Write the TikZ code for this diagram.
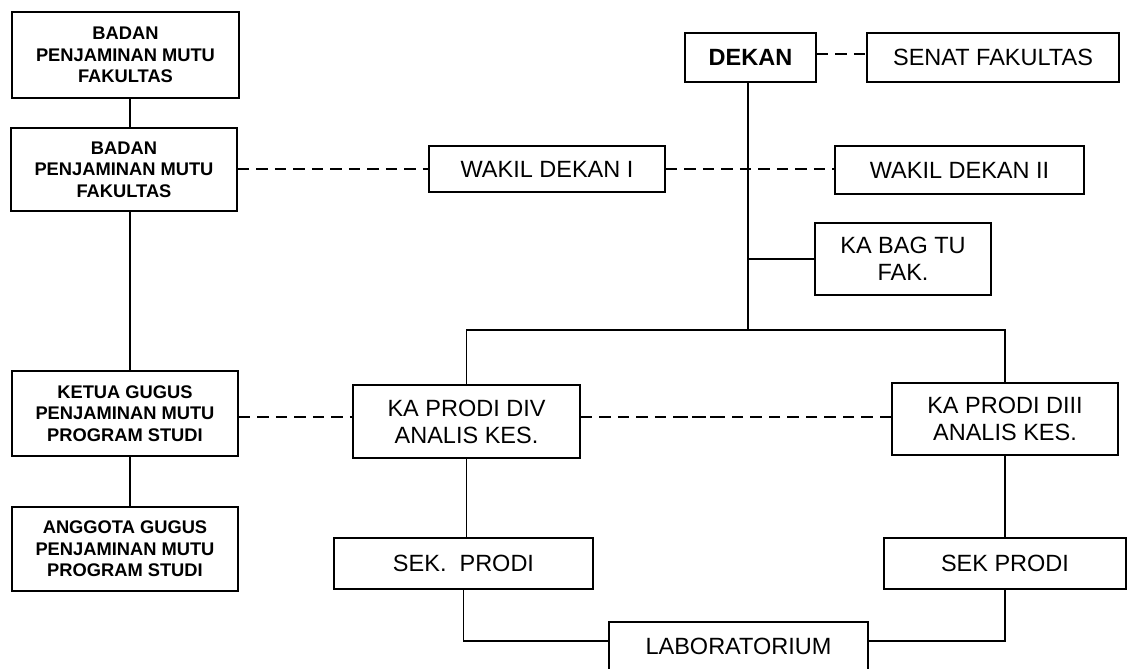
\documentclass[tikz,border=0pt]{standalone}
\usepackage{fontspec}
\setmainfont{Liberation Sans}
\begin{document}
\begin{tikzpicture}[x=1pt,y=-1pt,
  box/.style={draw, line width=1.8pt, inner sep=0pt, align=center, fill=white},
  small/.style={font=\fontsize{18.3}{21.5}\selectfont\bfseries},
  big/.style={font=\fontsize{23.5}{27}\selectfont},
  conn/.style={line width=1.9pt},
  thinconn/.style={line width=1.3pt},
  dsh/.style={line width=1.9pt, dash pattern=on 11.5pt off 7pt}]
\useasboundingbox (0,0) rectangle (1128,669);

% left column
\node[box,small,minimum width=227pt,minimum height=86pt] (bpm1) at (125.5,55) {BADAN\\PENJAMINAN MUTU\\FAKULTAS};
\node[box,small,minimum width=226pt,minimum height=83pt] (bpm2) at (124,169.5) {BADAN\\PENJAMINAN MUTU\\FAKULTAS};
\node[box,small,minimum width=226pt,minimum height=85pt] (ketua) at (125,413.5) {KETUA GUGUS\\PENJAMINAN MUTU\\PROGRAM STUDI};
\node[box,small,minimum width=226pt,minimum height=84pt] (anggota) at (125,549) {ANGGOTA GUGUS\\PENJAMINAN MUTU\\PROGRAM STUDI};

% top right
\node[box,big,minimum width=236pt,minimum height=46pt] (wd1) at (547,169) {WAKIL DEKAN I};
\node[box,big,font=\fontsize{23.5}{27}\selectfont\bfseries,minimum width=131pt,minimum height=49pt] (dekan) at (750.5,57.5) {DEKAN};
\node[box,big,minimum width=252pt,minimum height=49pt] (senat) at (993,57.5) {SENAT FAKULTAS};
\node[box,big,minimum width=249pt,minimum height=48pt] (wd2) at (959.5,170) {WAKIL DEKAN II};
\node[box,big,minimum width=176pt,minimum height=72pt] (kabag) at (903,259) {KA BAG TU\\FAK.};

% prodi
\node[box,big,minimum width=227pt,minimum height=73pt] (kpdiv) at (466.5,421.5) {KA PRODI DIV\\ANALIS KES.};
\node[box,big,minimum width=226pt,minimum height=72pt] (kpdiii) at (1005,419) {KA PRODI DIII\\ANALIS KES.};
\node[box,big,minimum width=259pt,minimum height=51pt] (sekl) at (463.5,563.5) {SEK.~~PRODI};
\node[box,big,minimum width=242pt,minimum height=51pt] (sekr) at (1005,563.5) {SEK PRODI};
\node[box,big,anchor=north,minimum width=259pt,text height=33pt,text depth=40pt] (lab) at (738.5,621) {LABORATORIUM};

% helper coordinates
\coordinate (lx) at (130,0);
\coordinate (vx) at (748,0);
\coordinate (bar) at (0,330);
\coordinate (dy) at (0,417);
\coordinate (ly) at (0,641);
\coordinate (m1) at (720,417);
\coordinate (m2) at (672,417);

% left column connectors
\draw[conn] (bpm1.south -| lx) -- (bpm2.north -| lx);
\draw[conn] (bpm2.south -| lx) -- (ketua.north -| lx);
\draw[conn] (ketua.south -| lx) -- (anggota.north -| lx);

% dashed links
\draw[dsh] (bpm2.east |- wd1.west) -- (wd1.west);
\draw[dsh] (wd1.east) -- (wd1.east -| wd2.west);
\draw[dsh] ([yshift=3.5pt]dekan.east) -- ([yshift=3.5pt]senat.west);
\draw[dsh] (ketua.east |- dy) -- (kpdiv.west |- dy);
\draw[dsh] (kpdiv.east |- dy) -- (m1);
\draw[dsh] (kpdiii.west |- dy) -- (m2);

% dekan trunk
\draw[conn] (dekan.south -| vx) -- (vx |- bar);
\draw[thinconn] (vx |- kabag.west) -- (kabag.west);
\draw[conn] (kpdiv.north) |- (kpdiii.north |- bar) -- (kpdiii.north);

% prodi to sek
\draw[conn] (kpdiv.south) -- (kpdiv.south |- sekl.north);
\draw[conn] (kpdiii.south) -- (sekr.north);
\draw[conn] (sekl.south) |- (lab.west |- ly);
\draw[conn] (sekr.south) |- (lab.east |- ly);
\end{tikzpicture}
\end{document}
